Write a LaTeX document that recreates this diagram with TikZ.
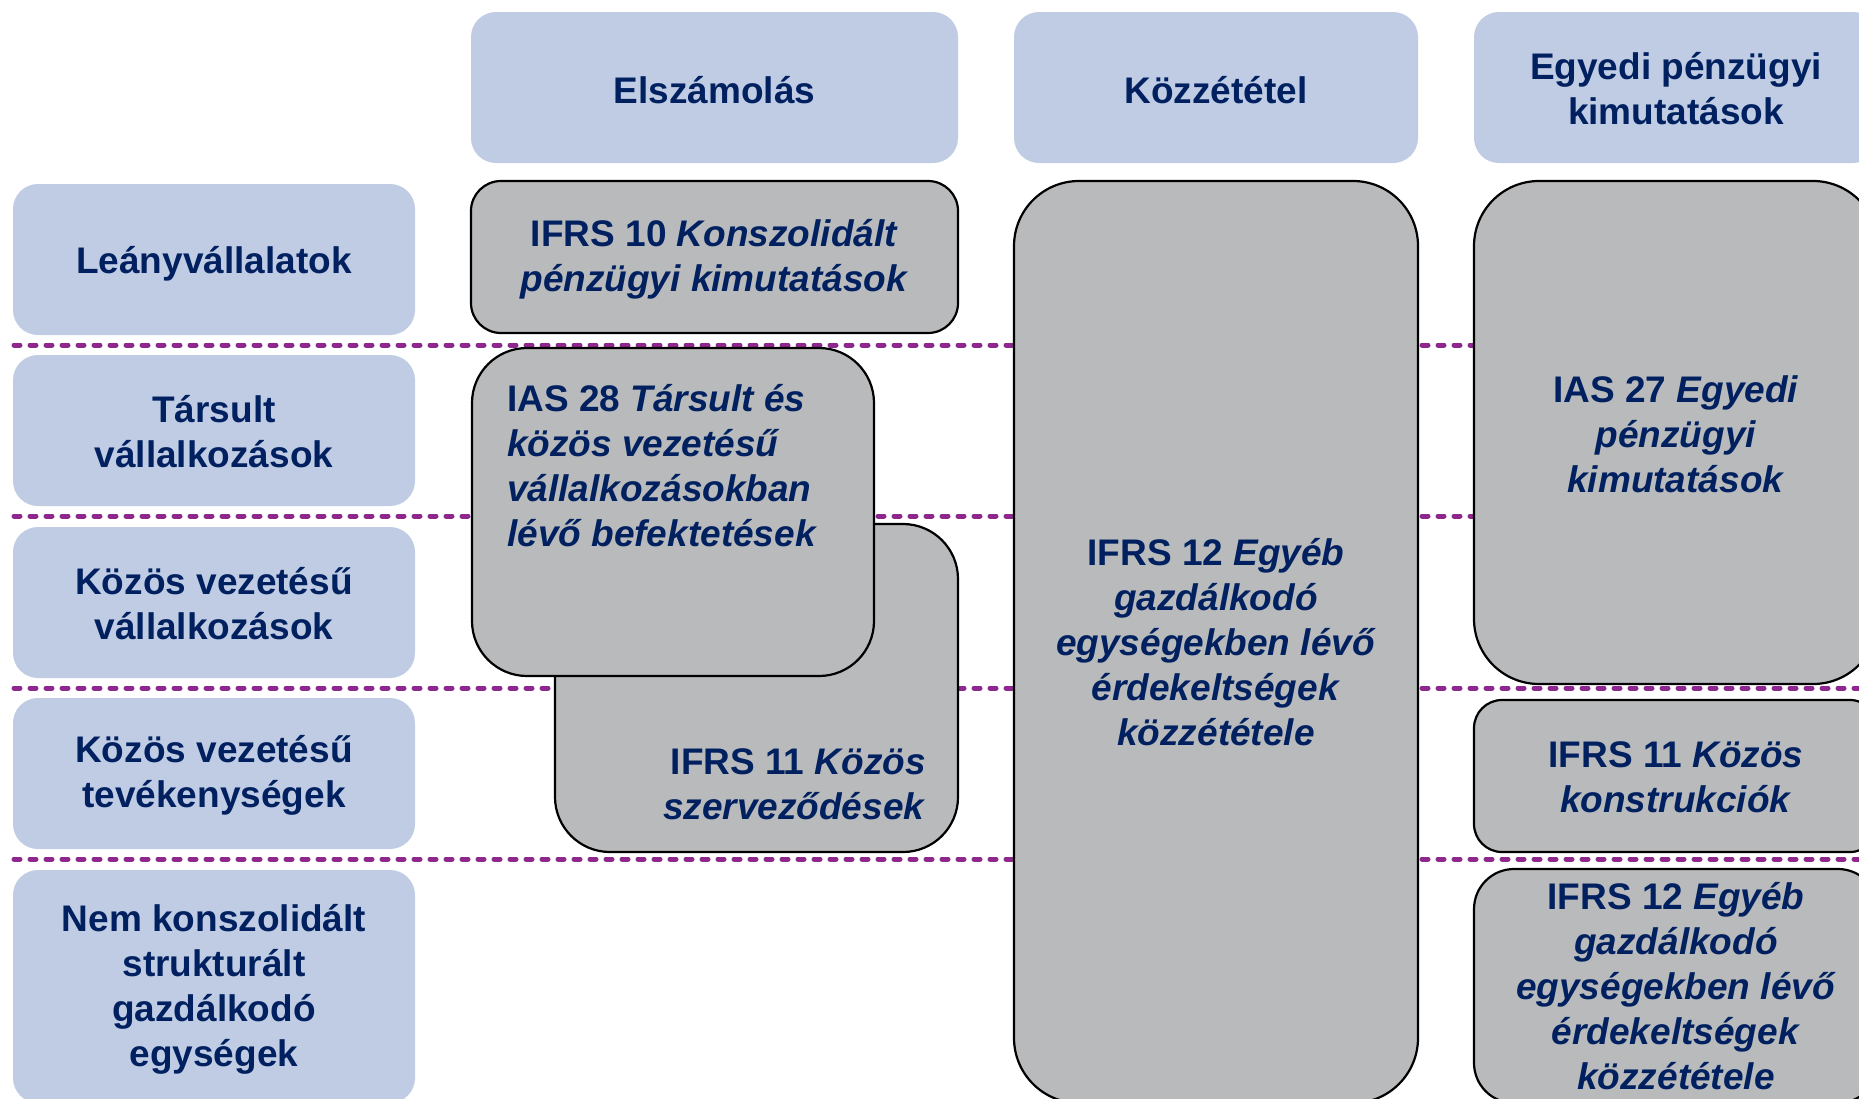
\documentclass[tikz,border=0pt]{standalone}
\usepackage{fontspec}
\setmainfont{Liberation Sans}
\definecolor{hdrblue}{RGB}{192,204,228}
\definecolor{boxgray}{RGB}{185,186,188}
\definecolor{navytxt}{RGB}{0,32,96}
\definecolor{divpurple}{RGB}{142,40,142}
\tikzset{
  lbl/.style={font=\fontsize{37pt}{45pt}\selectfont\bfseries, text=navytxt, align=center, inner sep=0pt},
  bluebox/.style={fill=hdrblue, draw=none, rectangle, rounded corners=25pt, inner sep=0pt},
  graybox/.style={fill=boxgray, draw=black, line width=2.2pt, rectangle, inner sep=0pt},
  divider/.style={divpurple, line width=5pt, line cap=round, dash pattern=on 6pt off 10pt}
}
\begin{document}
\begin{tikzpicture}[x=1pt,y=-1pt]
\useasboundingbox (0,0) rectangle (1859,1098);
% column headers
\node[bluebox, minimum width=487pt, minimum height=151pt] (h1) at (714.5,87.5) {};
\node[bluebox, minimum width=404pt, minimum height=151pt] (h2) at (1216,87.5) {};
\node[bluebox, minimum width=404pt, minimum height=151pt] (h3) at (1676,87.5) {};
\node[lbl] (h1t) at ([yshift=-3pt]h1.center) {Elszámolás};
\node[lbl] (h2t) at ([yshift=-3pt]h2.center) {Közzététel};
\node[lbl] (h3t) at ([yshift=-1.5pt]h3.center) {Egyedi pénzügyi\\kimutatások};
% row labels
\node[bluebox, minimum width=402pt, minimum height=151pt] (r1) at (214,259.5) {};
\node[bluebox, minimum width=402pt, minimum height=151pt] (r2) at (214,430.5) {};
\node[bluebox, minimum width=402pt, minimum height=151pt] (r3) at (214,602.5) {};
\node[bluebox, minimum width=402pt, minimum height=151pt] (r4) at (214,773.5) {};
\node[bluebox, minimum width=402pt, minimum height=233pt] (r5) at (214,986.5) {};
\node[lbl] (r1t) at ([yshift=-4pt]r1.center) {Leányvállalatok};
\node[lbl] (r2t) at ([yshift=-1.5pt]r2.center) {Társult\\vállalkozások};
\node[lbl] (r3t) at ([yshift=-1.5pt]r3.center) {Közös vezetésű\\vállalkozások};
\node[lbl] (r4t) at ([yshift=-1.5pt]r4.center) {Közös vezetésű\\tevékenységek};
\node[lbl] (r5t) at ([yshift=-2.5pt]r5.center) {Nem konszolidált\\strukturált\\gazdálkodó\\egységek};
% dividers
\coordinate (d1a) at (14,345); \coordinate (d1b) at (1870,345);
\coordinate (d2a) at (14,516); \coordinate (d2b) at (1870,516);
\coordinate (d3a) at (14,688); \coordinate (d3b) at (1870,688);
\coordinate (d4a) at (14,859); \coordinate (d4b) at (1870,859);
\draw[divider] (d1a) -- (d1b);
\draw[divider] (d2a) -- (d2b);
\draw[divider] (d3a) -- (d3b);
\draw[divider] (d4a) -- (d4b);
% Elszámolás column
\node[graybox, rounded corners=30pt, minimum width=487pt, minimum height=152pt] (ifrs10) at (714.5,257) {};
\node[lbl] (ifrs10t) at ([yshift=-2pt]ifrs10.center) {IFRS 10 \textit{Konszolidált}\\\textit{pénzügyi kimutatások}};
\node[graybox, rounded corners=55pt, minimum width=403pt, minimum height=328pt] (ifrs11a) at (756.5,688) {};
\node[lbl, anchor=east, align=right] (ifrs11at) at (926,784) {IFRS 11 \textit{Közös}\\\textit{szerveződések}};
\node[graybox, rounded corners=55pt, minimum width=402pt, minimum height=328pt] (ias28) at (673,512) {};
\node[lbl, anchor=west, align=left] (ias28t) at (507,465.5) {IAS 28 \textit{Társult és}\\\textit{közös vezetésű}\\\textit{vállalkozásokban}\\\textit{lévő befektetések}};
% Közzététel column
\node[graybox, rounded corners=65pt, minimum width=404pt, minimum height=922pt] (ifrs12a) at (1216,642) {};
\node[lbl] (ifrs12at) at ([yshift=-0.5pt]ifrs12a.center) {IFRS 12 \textit{Egyéb}\\\textit{gazdálkodó}\\\textit{egységekben lévő}\\\textit{érdekeltségek}\\\textit{közzététele}};
% Egyedi column
\node[graybox, rounded corners=65pt, minimum width=404pt, minimum height=503pt] (ias27) at (1676,432.5) {};
\node[lbl] (ias27t) at ([yshift=-1.5pt]ias27.center) {IAS 27 \textit{Egyedi}\\\textit{pénzügyi}\\\textit{kimutatások}};
\node[graybox, rounded corners=28pt, minimum width=404pt, minimum height=152pt] (ifrs11b) at (1676,776) {};
\node[lbl] (ifrs11bt) at ([yshift=-1.5pt]ifrs11b.center) {IFRS 11 \textit{Közös}\\\textit{konstrukciók}};
\node[graybox, rounded corners=40pt, minimum width=404pt, minimum height=234pt] (ifrs12b) at (1676,986) {};
\node[lbl] (ifrs12bt) at ([yshift=-0.5pt]ifrs12b.center) {IFRS 12 \textit{Egyéb}\\\textit{gazdálkodó}\\\textit{egységekben lévő}\\\textit{érdekeltségek}\\\textit{közzététele}};
\end{tikzpicture}
\end{document}
